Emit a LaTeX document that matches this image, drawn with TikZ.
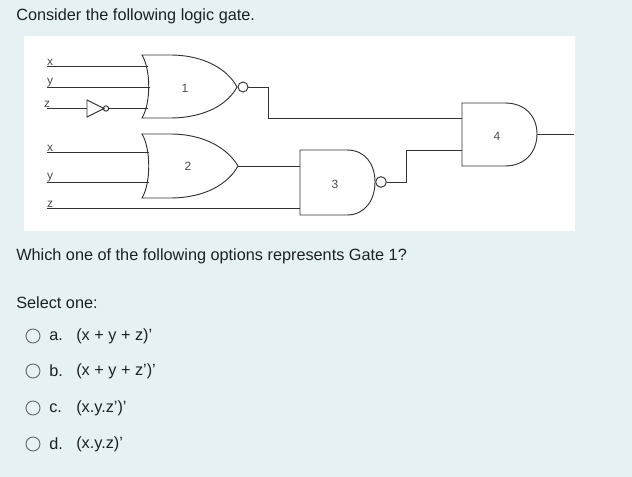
\documentclass[tikz,border=0pt]{standalone}
\usepackage{fontspec}
\setmainfont{Liberation Sans}
\definecolor{bg}{HTML}{E6F1F4}
\definecolor{txt}{HTML}{1D2125}
\tikzset{
  wire/.style={draw=black!80, line width=0.7pt},
  gate/.style={draw=black!80, line width=0.7pt},
  glabel/.style={font=\fontsize{9}{9}\selectfont, text=black!70, inner sep=0pt},
  qtext/.style={font=\fontsize{12.2}{13}\selectfont, text=txt, anchor=west, inner sep=0pt},
  radio/.style={draw=black!60, line width=0.7pt, circle, minimum size=10.5pt, inner sep=0pt},
}
\begin{document}
\begin{tikzpicture}[x=0.75pt,y=-0.75pt]
\useasboundingbox[fill=bg] (0,0) rectangle (632,477);
\fill[white] (24,36) rectangle (575,231);
% gate 1 (NOR)
\draw[gate] (142,55) .. controls (151,70) and (151,103) .. (142,118)
  -- (170,118) .. controls (205,118) and (228,104) .. (237,87)
  .. controls (228,70) and (205,55) .. (170,55) -- cycle;
\node[gate, circle, inner sep=0pt, minimum size=7.5pt] (b1) at (243,87) {};
\node[glabel] (g1) at (185,88) {1};
% gate 2 (OR)
\draw[gate] (142,134) .. controls (151,149) and (151,183) .. (142,198)
  -- (170,198) .. controls (205,198) and (228,184) .. (238,166)
  .. controls (228,149) and (205,134) .. (170,134) -- cycle;
\coordinate (o2) at (238,166);
\node[glabel] (g2) at (188,166) {2};
% gate 3 (NAND)
\draw[gate] (347,150) -- (300,150) -- (300,215) -- (347,215)
  .. controls (365,215) and (375,200) .. (375,182)
  .. controls (375,164) and (365,150) .. (347,150);
\node[gate, circle, inner sep=0pt, minimum size=8pt] (b3) at (381,182) {};
\node[glabel] (g3) at (335,184) {3};
% gate 4 (AND)
\draw[gate] (505,103) -- (462,103) -- (462,166) -- (505,166)
  .. controls (525,166) and (537,152) .. (537,134)
  .. controls (537,116) and (525,103) .. (505,103);
\coordinate (o4) at (537,134);
\coordinate (end4) at (574,134);
\node[glabel] (g4) at (497,136) {4};
% inverter
\draw[gate] (87,100) -- (104,108.5) -- (87,117) -- cycle;
\node[gate, circle, inner sep=0pt, minimum size=4pt] (bi) at (106,108.5) {};
% inputs
\coordinate (x1) at (47,66); \coordinate (y1) at (47,87); \coordinate (z1) at (47,108);
\coordinate (x2) at (47,152); \coordinate (y2) at (47,182); \coordinate (z2) at (47,208);
\draw[wire] (x1) -- (148,66);
\draw[wire] (y1) -- (150,87);
\draw[wire] (z1) -- (87,108);
\draw[wire] (bi.east) -- (148,108.5);
\draw[wire] (x2) -- (149,152);
\draw[wire] (y2) -- (149,182);
\draw[wire] (z2) -- (300,208);
\node[glabel, anchor=south] at (50,66) {x};
\node[glabel, anchor=south] at (50,87) {y};
\node[glabel, anchor=south] at (47,108) {z};
\node[glabel, anchor=south] at (50,152) {x};
\node[glabel, anchor=south] at (50,182) {y};
\node[glabel, anchor=south] at (50,208) {z};
% connections
\draw[wire] (b1.east) -- (268,87) -- (268,118) -- (462,118);
\draw[wire] (o2) -- (300,166);
\draw[wire] (b3.east) -- (406,182) -- (406,150) -- (462,150);
\draw[wire] (o4) -- (end4);
% text
\node[qtext] (q) at (16,16) {Consider the following logic gate.};
\node[qtext] (w) at (16,256) {Which one of the following options represents Gate 1?};
\node[qtext] (s) at (16,303) {Select one:};
\foreach \n/\yy/\l/\t in {a/336/a./{(x + y + z)'}, b/371/b./{(x + y + z')'}, c/408/c./{(x.y.z')'}, d/444/d./{(x.y.z)'}}{
  \node[radio] (r\n) at (33,\yy) {};
  \node[qtext] (l\n) at (49,\yy) {\l};
  \node[qtext] (t\n) at (76,\yy) {\t};
}
\end{tikzpicture}
\end{document}
